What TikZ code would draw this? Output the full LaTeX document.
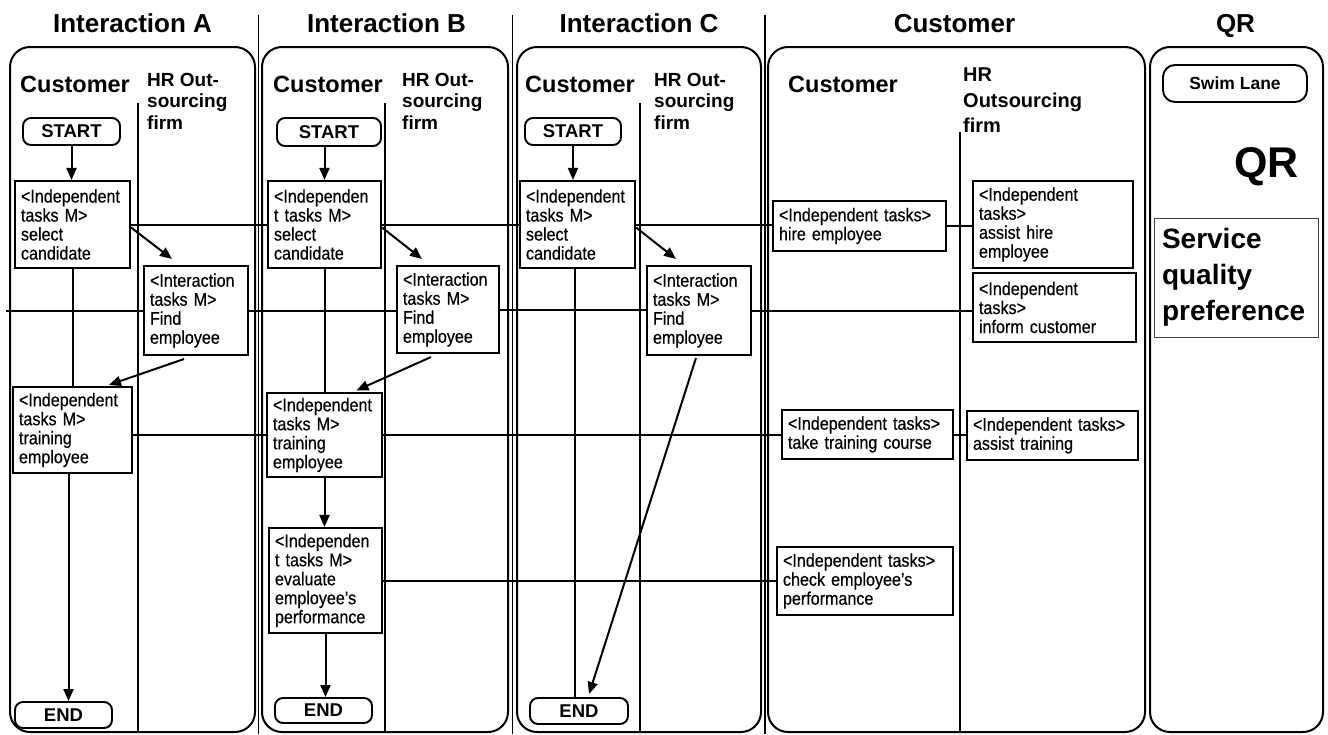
\documentclass[tikz,border=0pt]{standalone}
\usepackage{fontspec}
\setmainfont{Liberation Sans}
\newfontfamily\narrowsans[FakeStretch=0.88,FakeBold=0.4]{Liberation Sans}
\usetikzlibrary{arrows.meta,calc}
\newcommand\boxtext{\narrowsans\fontsize{18.3}{19}\selectfont\hyphenpenalty=10000 }
\tikzset{
  panel/.style={draw, line width=2pt, rounded corners=20pt},
  sepline/.style={line width=1.8pt},
  lanediv/.style={line width=2pt},
  task/.style={draw, line width=2.1pt, fill=white, align=left, inner xsep=6pt, inner ysep=2pt, font=\boxtext},
  thintask/.style={task, line width=1.1pt},
  term/.style={draw, line width=1.9pt, rounded corners=8pt, font=\fontsize{18.5}{20}\selectfont\bfseries, inner sep=0pt},
  hdr/.style={font=\fontsize{26}{30}\selectfont\bfseries, anchor=base, inner sep=0pt},
  lanelbl/.style={font=\fontsize{23.5}{26}\selectfont\bfseries, anchor=base west, inner sep=0pt},
  hrlbl/.style={font=\fontsize{19}{21.5}\selectfont\bfseries, align=left, anchor=north west, inner sep=0pt},
  conn/.style={line width=2pt},
  arr/.style={line width=2pt, -{Triangle[length=12pt,width=10pt]}},
}
\begin{document}
\begin{tikzpicture}[x=1pt,y=-1pt]
\useasboundingbox (0,0) rectangle (1328,734);

% panels
\draw[panel] (10,47) rectangle (255,732);
\draw[panel] (262,47) rectangle (508,732);
\draw[panel] (517,47) rectangle (761,732);
\draw[panel] (768,47) rectangle (1145,732);
\draw[panel] (1150,47) rectangle (1323,732);

% header separators
\draw[sepline] (258.5,15) -- (258.5,734);
\draw[sepline] (512.5,15) -- (512.5,734);
\draw[sepline] (765,15) -- (765,734);

% lane dividers
\draw[lanediv] (138,103) -- (138,732);
\draw[lanediv] (385,103) -- (385,732);
\draw[lanediv] (640,103) -- (640,732);
\draw[lanediv] (960,132) -- (960,732);

% headers
\node[hdr] (hA) at (132.5,32) {Interaction A};
\node[hdr] (hB) at (386.5,32) {Interaction B};
\node[hdr] (hC) at (639,32) {Interaction C};
\node[hdr] (hD) at (954.5,32) {Customer};
\node[hdr] (hE) at (1235.5,32) {QR};

% lane labels
\node[lanelbl] (cA) at (20,92) {Customer};
\node[lanelbl] (cB) at (273,92) {Customer};
\node[lanelbl] (cC) at (525,92) {Customer};
\node[lanelbl] (cD) at (788,92) {Customer};
\node[hrlbl] (rA) at (147,73) {HR Out-\\sourcing\\firm};
\node[hrlbl] (rB) at (402,73) {HR Out-\\sourcing\\firm};
\node[hrlbl] (rC) at (654,73) {HR Out-\\sourcing\\firm};
\node[hrlbl, font=\fontsize{20}{25.5}\selectfont\bfseries] (rD) at (963,68) {HR\\Outsourcing\\firm};

% Interaction A
\node[term, minimum width=97pt, minimum height=27pt] (AS) at (71.5,131.5) {START};
\node[task, text width=103pt, minimum height=87pt] (A1) at (72.5,224.5) {<Independent\\tasks M>\\select\\candidate};
\node[task, text width=92pt, minimum height=89pt] (A2) at (196,310.5) {<Interaction\\tasks M>\\Find\\employee};
\node[task, text width=107pt, minimum height=86pt] (A3) at (72.5,430) {<Independent\\tasks M>\\training\\employee};
\node[term, minimum width=97pt, minimum height=26pt] (AE) at (63.5,715) {END};

% Interaction B
\node[term, minimum width=104pt, minimum height=28pt] (BS) at (329,132) {START};
\node[task, text width=101pt, minimum height=87pt] (B1) at (324.5,224.5) {<Independen\\t tasks M>\\select\\candidate};
\node[task, text width=90pt, minimum height=87pt] (B2) at (448,309.5) {<Interaction\\tasks M>\\Find\\employee};
\node[thintask, text width=103pt, minimum height=84pt] (B3) at (324.5,435) {<Independent\\tasks M>\\training\\employee};
\node[task, text width=101pt, minimum height=105pt] (B4) at (325.5,580.5) {<Independen\\t tasks M>\\evaluate\\employee’s\\performance};
\node[term, minimum width=97pt, minimum height=25pt] (BE) at (323.5,710.5) {END};

% Interaction C
\node[term, minimum width=96pt, minimum height=27pt] (CS) at (573,131.5) {START};
\node[task, text width=103pt, minimum height=87pt] (C1) at (577.5,224.5) {<Independent\\tasks M>\\select\\candidate};
\node[task, text width=92pt, minimum height=89pt] (C2) at (699,310.5) {<Interaction\\tasks M>\\Find\\employee};
\node[term, minimum width=98pt, minimum height=26pt] (CE) at (579,711) {END};

% Customer panel
\node[task, text width=161pt, minimum height=50pt] (hire) at (859.5,226) {<Independent tasks>\\hire employee};
\node[task, text width=148pt, minimum height=87pt] (ahire) at (1053,224.5) {<Independent\\tasks>\\assist hire\\employee};
\node[task, text width=151pt, minimum height=69pt] (inf) at (1054.5,307.5) {<Independent\\tasks>\\inform customer};
\node[task, text width=159pt, minimum height=49pt] (take) at (867.5,434.5) {<Independent tasks>\\take training course};
\node[task, text width=159pt, minimum height=49pt] (atr) at (1052.5,435.5) {<Independent tasks>\\assist training};
\node[task, text width=164pt, minimum height=68pt] (chk) at (865,581) {<Independent tasks>\\check employee’s\\performance};

% QR panel
\node[draw, line width=1.9pt, rounded corners=12pt, minimum width=144pt, minimum height=37pt, inner sep=0pt, font=\fontsize{17.5}{20}\selectfont\bfseries] (swim) at (1235,83.5) {Swim Lane};
\node[font=\fontsize{43}{48}\selectfont\bfseries, anchor=base east, inner sep=0pt] (qr) at (1299,177) {QR};
\node[draw=black!75, line width=1pt, align=left, text width=148pt, inner xsep=8pt, minimum height=119pt, font=\fontsize{28}{36}\selectfont\bfseries] (sqp) at (1236,277.5) {Service\\quality\\preference};

% connectors in Interaction A
\draw[arr] (AS.south) -- (AS.south |- A1.north);
\draw[arr] ($(A1.east)+(0,3)$) -- ($(A2.north west)+(29,-6)$);
\draw[conn] (A1.south) -- (A1.south |- A3.north);
\draw[arr] ($(A2.south west)+(41,3)$) -- ($(A3.north west)+(97,-1)$);
\draw[arr] ($(A3.south)+(-4,0)$) -- ($(A3.south |- AE.north)+(-4,0)$);

% connectors in Interaction B
\draw[arr] (B1.north |- BS.south) -- (B1.north);
\draw[arr] ($(B1.east)+(0,3)$) -- ($(B2.north west)+(26,-6)$);
\draw[conn] (B1.south) -- (B1.south |- B3.north);
\draw[arr] ($(B2.south west)+(35,3)$) -- ($(B3.north west)+(90,-2)$);
\draw[arr] (B3.south) -- (B3.south |- B4.north);
\draw[arr] (B4.south) -- (B4.south |- BE.north);

% connectors in Interaction C
\draw[arr] (CS.south) -- (CS.south |- C1.north);
\draw[arr] ($(C1.east)+(0,3)$) -- ($(C2.north west)+(30,-6)$);
\draw[conn] ($(C1.south)+(-3,0)$) -- ($(C1.south |- CE.north)+(-3,0)$);
\draw[arr] ($(C2.south west)+(50,2)$) -- ($(CE.north west)+(60,-3)$);

% horizontal links across panels
\draw[conn] (A1.east) -- (A1.east -| B1.west);
\draw[conn] (B1.east) -- (B1.east -| C1.west);
\draw[conn] (C1.east) -- (C1.east -| hire.west);
\draw[conn] (hire.east) -- (hire.east -| ahire.west);

\coordinate (Lin) at (6,310.5);
\draw[conn] (Lin) -- (A2.west);
\draw[conn] (A2.east) -- (A2.east -| B2.west);
\draw[conn] (B2.east) -- (B2.east -| C2.west);
\draw[conn] (C2.east) -- (C2.east -| inf.west);

\draw[conn] (A3.east |- B3.west) -- (B3.west);
\draw[conn] (B3.east) -- (B3.east -| take.west);
\draw[conn] (take.east) -- (take.east -| atr.west);

\draw[conn] (B4.east) -- (B4.east -| chk.west);
\end{tikzpicture}
\end{document}
